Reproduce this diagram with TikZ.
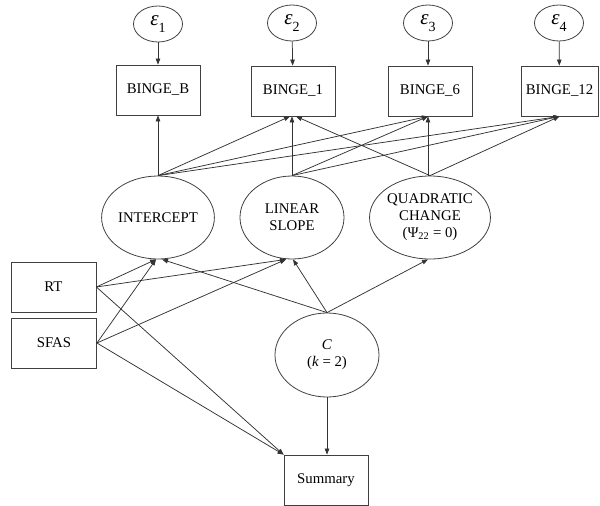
\documentclass[tikz,border=0pt]{standalone}
\usepackage{fontspec}
\setmainfont{Liberation Serif}
\usetikzlibrary{shapes.geometric,arrows.meta}

\newcommand{\errlabel}[1]{\textit{ε}\raisebox{-0.3em}{\fontsize{14}{14}\selectfont #1}}

\begin{document}
\begin{tikzpicture}[
  x=1pt, y=-1pt,
  every node/.style={font=\fontsize{14.8}{17}\selectfont, text=black, align=center},
  obsbox/.style={draw=black!75, line width=0.8pt, rectangle, minimum width=84pt, minimum height=50pt, inner sep=0pt},
  latent/.style={draw=black!75, line width=0.8pt, ellipse, minimum width=104pt, minimum height=83pt, inner sep=0pt},
  errnode/.style={draw=black!75, line width=0.8pt, ellipse, minimum width=49pt, minimum height=36pt, inner sep=0pt, font=\fontsize{21}{22}\selectfont},
  path/.style={draw=black!80, line width=0.75pt, -{Triangle[length=6pt,width=4.5pt]}}
]
\useasboundingbox (0,0) rectangle (600,506);

% residual terms
\node[errnode] (e1) at (158,24) {\errlabel{1}};
\node[errnode] (e2) at (292,23) {\errlabel{2}};
\node[errnode] (e3) at (428,23) {\errlabel{3}};
\node[errnode] (e4) at (559,23) {\errlabel{4}};

% observed binge measures
\node[obsbox] (bB)  at (158,90) {BINGE\_B};
\node[obsbox] (b1)  at (293,91) {BINGE\_1};
\node[obsbox] (b6)  at (430,91) {BINGE\_6};
\node[obsbox, minimum width=77pt] (b12) at (559.5,91) {BINGE\_12};

% growth factors
\node[latent] (int)  at (158,217.5) {INTERCEPT};
\node[latent] (lin)  at (292,217.5) {LINEAR\\SLOPE};
\node[latent] (quad) at (430,217.5) {QUADRATIC\\CHANGE\\(Ψ\textsubscript{22} = 0)};

% covariates
\node[obsbox, minimum width=85pt] (rt)   at (53.5,287) {RT};
\node[obsbox, minimum width=85pt] (sfas) at (54,343) {SFAS};

% latent classes and distal outcome
\node[latent, minimum height=84pt] (cls) at (327,355) {\textit{C}\\(\textit{k} = 2)};
\node[obsbox] (sum) at (326,480) {Summary};

% residuals to indicators
\draw[path] (e1) -- (bB);
\draw[path] (e2) -- (b1);
\draw[path] (e3) -- (b6.north -| e3);
\draw[path] (e4) -- (b12);

% factor loadings
\draw[path] (int.north) -- (bB.south);
\draw[path] (int.north) -- ([xshift=-3pt]b1.south);
\draw[path] (int.north) -- ([xshift=-2pt]b6.south);
\draw[path] (int.north) -- (b12.south);
\draw[path] (lin.north) -- (b1.south -| lin.north);
\draw[path] (lin.north) -- ([xshift=-2pt]b6.south);
\draw[path] (lin.north) -- (b12.south);
\draw[path] (quad.north) -- ([xshift=3pt]b1.south);
\draw[path] ([xshift=-2pt]quad.north) -- ([xshift=-2pt]b6.south);
\draw[path] (quad.north) -- (b12.south);

% covariate effects
\draw[path] (rt.east) -- ([xshift=-2pt]int.south);
\draw[path] (rt.east) -- ([xshift=-6pt]lin.south);
\draw[path] (rt.east) -- (sum.north west);
\draw[path] (sfas.east) -- ([xshift=-2pt]int.south);
\draw[path] (sfas.east) -- ([xshift=-6pt]lin.south);
\draw[path] (sfas.east) -- (sum.north west);

% class effects
\draw[path] (cls.north) -- ([xshift=4pt]int.south);
\draw[path] (cls.north) -- ([xshift=1pt]lin.south);
\draw[path] (cls.north) -- ([xshift=-2pt]quad.south);
\draw[path] (cls.south) -- (sum.north -| cls.south);
\end{tikzpicture}
\end{document}
